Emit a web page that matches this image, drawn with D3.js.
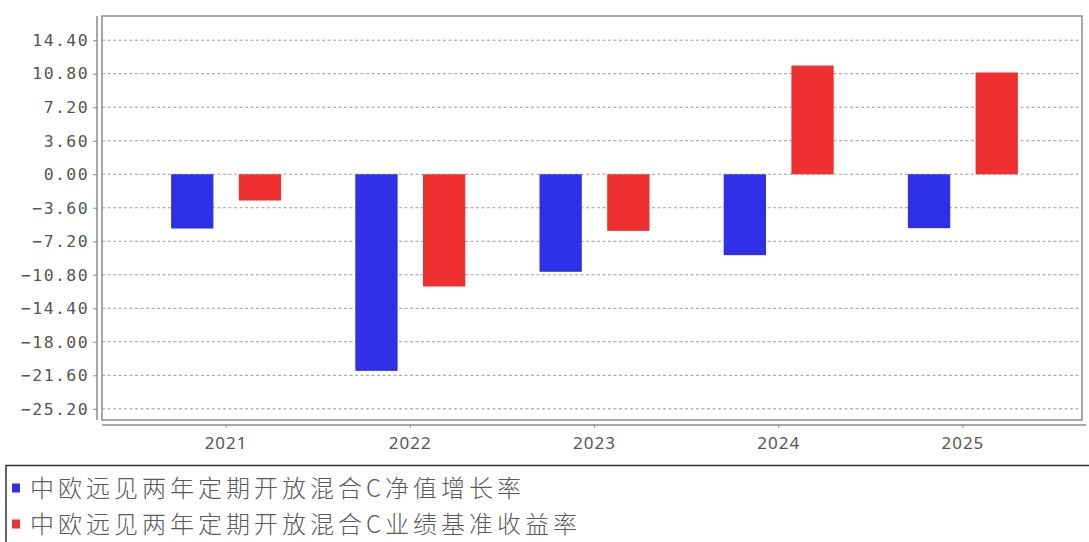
<!DOCTYPE html>
<html><head><meta charset="utf-8">
<script src="https://cdn.jsdelivr.net/npm/d3@7"></script>
<style>body{margin:0;background:#fff;} svg{display:block;}</style>
</head><body>
<svg id="c" width="1089" height="542"></svg>
<script>
const years = ["2021","2022","2023","2024","2025"];
const seriesNames = ["中欧远见两年定期开放混合C净值增长率","中欧远见两年定期开放混合C业绩基准收益率"];
const netGrowth = [-5.83, -21.12, -10.48, -8.69, -5.79];
const benchmark = [-2.82, -12.06, -6.08, 11.68, 10.93];
const yTicks = [14.4, 10.8, 7.2, 3.6, 0, -3.6, -7.2, -10.8, -14.4, -18.0, -21.6, -25.2];
const colors = ["#2f2fe8", "#ee3030"];

const svg = d3.select("#c");
const L = 102, R = 1082, T = 16, B = 420;
const y = d3.scaleLinear().domain([-26.4, 17.0]).range([B, T]);
const x = d3.scaleBand().domain(years).range([134, 1055]).padding(0);
const inner = d3.scaleBand().domain([0,1]).range([-55, 55]).paddingInner(0.375).paddingOuter(0);

// gridlines
svg.append("g").selectAll("line").data(yTicks).join("line")
  .attr("x1", L).attr("x2", R)
  .attr("y1", d => y(d)).attr("y2", d => y(d))
  .attr("stroke", "#9a9a9a").attr("stroke-width", 1).attr("stroke-dasharray", "3,2.5");

// bars
const series = [netGrowth, benchmark];
series.forEach((vals, si) => {
  svg.append("g").selectAll("rect").data(vals).join("rect")
    .attr("x", (d, i) => x(years[i]) + x.bandwidth()/2 + inner(si))
    .attr("width", inner.bandwidth())
    .attr("y", d => y(Math.max(0, d)))
    .attr("height", d => Math.abs(y(d) - y(0)))
    .attr("fill", colors[si]);
});

// plot frame
svg.append("rect").attr("x", L).attr("y", T).attr("width", R - L).attr("height", B - T)
  .attr("fill", "none").attr("stroke", "#8a8a8a").attr("stroke-width", 1.5);

// y axis
const yAxis = d3.axisLeft(y).tickValues(yTicks).tickSize(4).tickPadding(6)
  .tickFormat(d => d3.format(".2f")(d));
const gy = svg.append("g").attr("transform", `translate(97,0)`).call(yAxis);
gy.select(".domain").attr("d", `M0,${T}V${B}`).attr("stroke", "#8a8a8a").attr("stroke-width", 1.5);
gy.selectAll(".tick line").attr("stroke", "#8a8a8a");
gy.selectAll(".tick text").attr("fill", "#555")
  .style("font-family", "'DejaVu Sans Mono', monospace").style("font-size", "16.5px")
  .style("letter-spacing", "1.4px").attr("x", -8);

// x axis
const xAxis = d3.axisBottom(x).tickSize(3).tickPadding(9);
const gx = svg.append("g").attr("transform", `translate(0,425)`).call(xAxis);
gx.select(".domain").attr("d", `M${L},0H${R + 4}`).attr("stroke", "#8a8a8a").attr("stroke-width", 1.5);
gx.selectAll(".tick line").attr("stroke", "#8a8a8a");
gx.selectAll(".tick text").attr("fill", "#555")
  .style("font-family", "'Noto Sans', sans-serif").style("font-size", "17px").style("letter-spacing", "1px");

// legend
svg.append("rect").attr("x", 6).attr("y", 465.5).attr("width", 1100).attr("height", 100)
  .attr("fill", "none").attr("stroke", "#333").attr("stroke-width", 1.5);
const lg = svg.append("g").selectAll("g").data(seriesNames).join("g")
  .attr("transform", (d, i) => `translate(0,${488 + i * 36})`);
lg.append("rect").attr("x", 12).attr("y", -4.5).attr("width", 8).attr("height", 9)
  .attr("fill", (d, i) => colors[i]);
lg.append("text").attr("x", 30).attr("y", 0).attr("dy", "0.36em")
  .text(d => d).attr("fill", "#5a5a5a")
  .style("font-family", "'Noto Sans CJK SC', sans-serif").style("font-weight", 300)
  .style("font-size", "24px").style("letter-spacing", "4px");
</script>
</body></html>
